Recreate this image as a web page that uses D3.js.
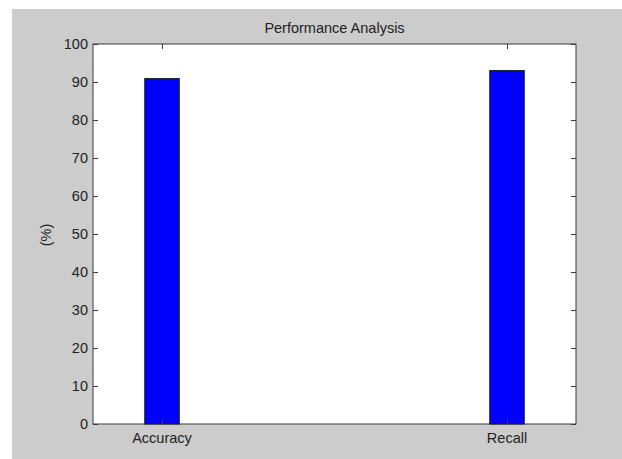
<!DOCTYPE html>
<html>
<head>
<meta charset="utf-8">
<script src="https://cdn.jsdelivr.net/npm/d3@7"></script>
<style>
  html, body { margin: 0; padding: 0; background: #fff; }
  text { font-family: "Liberation Sans", Arial, sans-serif; fill: #222; }
</style>
</head>
<body>
<svg id="chart" width="622" height="459"></svg>
<script>
// --- data ---
const categories = ["Accuracy", "Recall"];
const values = [90.9, 93.0];
const yTicks = [0, 10, 20, 30, 40, 50, 60, 70, 80, 90, 100];

const svg = d3.select("#chart");

// gray figure background
svg.append("rect")
  .attr("x", 12).attr("y", 9)
  .attr("width", 610).attr("height", 450)
  .attr("fill", "#cccccc");

const mLeft = 93, mRight = 576, mTop = 44, mBottom = 424;

// x positions like matlab: 1, 2 with xlim [0.8, 2.2]
const x = d3.scaleLinear().domain([0.8, 2.2]).range([mLeft, mRight]);
const y = d3.scaleLinear().domain([0, 100]).range([mBottom, mTop]);
const barW = x(1.05) - x(0.95);

// axes box
svg.append("rect")
  .attr("x", mLeft).attr("y", mTop)
  .attr("width", mRight - mLeft).attr("height", mBottom - mTop)
  .attr("fill", "#fff")
  .attr("stroke", "#3a3a3a")
  .attr("stroke-width", 1);

// bars
svg.selectAll("rect.bar")
  .data(values)
  .enter().append("rect")
    .attr("class", "bar")
    .attr("x", (d, i) => x(i + 1) - barW / 2)
    .attr("y", d => y(d))
    .attr("width", barW)
    .attr("height", d => y(0) - y(d))
    .attr("fill", "#0000ff")
    .attr("stroke", "#1a1a1a")
    .attr("stroke-width", 1);

// y axis left (ticks inward)
svg.append("g")
  .attr("transform", `translate(${mLeft},0)`)
  .call(d3.axisRight(y).tickValues(yTicks).tickSize(5).tickFormat(""))
  .call(g => g.select(".domain").remove())
  .call(g => g.selectAll("line").attr("stroke", "#3a3a3a"));

svg.append("g").selectAll("text")
  .data(yTicks)
  .enter().append("text")
    .attr("x", mLeft - 5)
    .attr("y", d => y(d) + 5)
    .attr("text-anchor", "end")
    .style("font-size", "14.5px")
    .text(d => d);

// y axis right (ticks inward)
svg.append("g")
  .attr("transform", `translate(${mRight},0)`)
  .call(d3.axisLeft(y).tickValues(yTicks).tickSize(5).tickFormat(""))
  .call(g => g.select(".domain").remove())
  .call(g => g.selectAll("line").attr("stroke", "#3a3a3a"));

// x axis bottom / top ticks inward
svg.append("g")
  .attr("transform", `translate(0,${mBottom})`)
  .call(d3.axisTop(x).tickValues([1, 2]).tickSize(5).tickFormat(""))
  .call(g => g.select(".domain").remove())
  .call(g => g.selectAll("line").attr("stroke", "#3a3a3a"));

svg.append("g")
  .attr("transform", `translate(0,${mTop})`)
  .call(d3.axisBottom(x).tickValues([1, 2]).tickSize(5).tickFormat(""))
  .call(g => g.select(".domain").remove())
  .call(g => g.selectAll("line").attr("stroke", "#3a3a3a"));

svg.append("g").selectAll("text")
  .data(categories)
  .enter().append("text")
    .attr("x", (d, i) => x(i + 1))
    .attr("y", mBottom + 19)
    .attr("text-anchor", "middle")
    .style("font-size", "14.5px")
    .text(d => d);

// y label
svg.append("text")
  .attr("transform", `translate(51,235) rotate(-90)`)
  .attr("text-anchor", "middle")
  .style("font-size", "14.5px")
  .text("(%)");

// title
svg.append("text")
  .attr("x", (mLeft + mRight) / 2)
  .attr("y", 33)
  .attr("text-anchor", "middle")
  .style("font-size", "14.5px")
  .text("Performance Analysis");
</script>
</body>
</html>
